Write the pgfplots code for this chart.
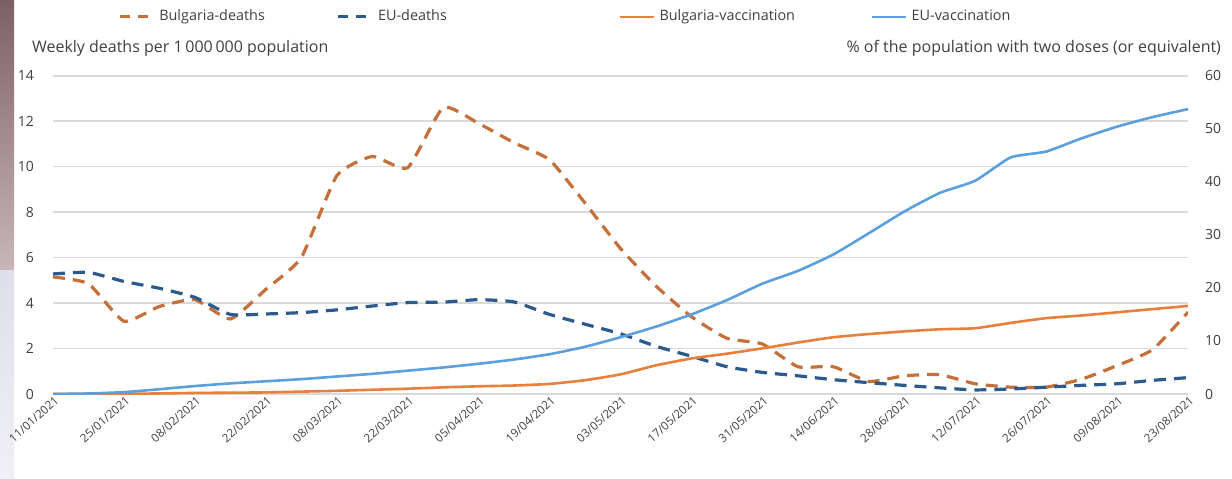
\documentclass[border=0pt]{standalone}
\usepackage{fontspec}
\setmainfont{Open Sans}
\usepackage{pgfplots}
\pgfplotsset{compat=1.18}
\usepackage{pgfplotstable}

\definecolor{bgd}{RGB}{196,112,58}
\definecolor{eud}{RGB}{44,90,140}
\definecolor{bgv}{RGB}{232,127,58}
\definecolor{euv}{RGB}{91,160,220}
\definecolor{txt}{RGB}{64,64,64}
\definecolor{grd}{RGB}{217,217,217}

\pgfplotstableread{
i bgd eud bgv euv
0 5.15 5.28 0.00 0.0
1 4.85 5.35 0.00 0.1
2 3.20 4.95 0.05 0.35
3 3.85 4.65 0.10 0.9
4 4.15 4.25 0.20 1.5
5 3.30 3.50 0.25 2.0
6 4.60 3.52 0.30 2.4
7 6.00 3.58 0.45 2.8
8 9.60 3.70 0.60 3.3
9 10.45 3.87 0.80 3.8
10 9.95 4.02 1.00 4.4
11 12.60 4.04 1.25 5.0
12 11.90 4.15 1.45 5.7
13 11.05 4.05 1.60 6.5
14 10.30 3.50 1.90 7.5
15 8.40 3.07 2.60 8.9
16 6.40 2.65 3.70 10.7
17 4.75 2.10 5.40 12.7
18 3.40 1.66 6.70 15.0
19 2.45 1.20 7.60 17.7
20 2.20 0.95 8.60 20.8
21 1.20 0.80 9.70 23.2
22 1.20 0.63 10.70 26.3
23 0.55 0.50 11.30 30.3
24 0.80 0.38 11.80 34.4
25 0.85 0.27 12.20 37.9
26 0.45 0.18 12.40 40.2
27 0.30 0.22 13.40 44.6
28 0.30 0.30 14.30 45.7
29 0.65 0.38 14.80 48.2
30 1.25 0.45 15.40 50.4
31 1.95 0.60 16.00 52.2
32 3.60 0.72 16.60 53.7
}\datatable

\begin{document}
\begin{tikzpicture}
\useasboundingbox (0,0) rectangle (616pt,239pt);
\fill[white] (0,0) rectangle (616pt,239pt);
\shade[top color={rgb,255:red,125;green,96;blue,102}, bottom color={rgb,255:red,200;green,182;blue,184}] (0,104pt) rectangle (7pt,239pt);
\shade[top color={rgb,255:red,222;green,222;blue,232}, bottom color={rgb,255:red,240;green,240;blue,246}] (0,0) rectangle (7pt,104pt);

\pgfplotsset{
  common/.style={
    at={(26.5pt,42pt)}, anchor=south west,
    scale only axis, width=567.5pt, height=159.15pt,
    xmin=0, xmax=32,
    axis line style={draw=none},
    major tick length=0pt,
    tick style={draw=none},
    clip mode=individual,
    /pgf/number format/assume math mode=true,
    every tick label/.append style={font=\fontsize{7}{8}\selectfont, text=txt},
  }
}

\begin{axis}[common,
  ymin=0, ymax=14, ytick={0,2,...,14},
  ymajorgrids, grid style={grd, line width=0.8pt},
  xtick={0,2,...,32},
  xticklabels={11/01/2021,25/01/2021,08/02/2021,22/02/2021,08/03/2021,22/03/2021,05/04/2021,19/04/2021,03/05/2021,17/05/2021,31/05/2021,14/06/2021,28/06/2021,12/07/2021,26/07/2021,09/08/2021,23/08/2021},
  xticklabel style={rotate=42, anchor=east, inner sep=1pt, xshift=1pt, yshift=-3pt, font=\fontsize{5.8}{7}\selectfont},
  yticklabel style={anchor=east, xshift=-6pt},
]
\addplot[bgd, line width=1.6pt, dash pattern=on 6pt off 4pt, smooth, tension=0.3] table[x=i, y=bgd] {\datatable};
\addplot[eud, line width=1.6pt, dash pattern=on 6pt off 4pt, smooth, tension=0.3] table[x=i, y=eud] {\datatable};
\node[anchor=west, text=txt, font=\fontsize{8}{9}\selectfont] at (rel axis cs:0,1) [xshift=-14pt, yshift=13.5pt] {Weekly deaths per 1\,000\,000 population};
\node[anchor=east, text=txt, font=\fontsize{8}{9}\selectfont] at (rel axis cs:1,1) [xshift=20pt, yshift=13.5pt] {\% of the population with two doses (or equivalent)};
\end{axis}

\begin{axis}[common,
  ymin=0, ymax=60, ytick={0,10,...,60},
  axis y line*=right, axis x line=none,
  yticklabel style={anchor=west, xshift=5pt},
  legend columns=4,
  legend style={at={(0.057,1.185)}, anchor=west, draw=none, fill=none,
    font=\fontsize{7.2}{8}\selectfont, text=txt, inner sep=0pt,
    /tikz/column 2/.style={column sep=34pt},
    /tikz/column 4/.style={column sep=84pt},
    /tikz/column 6/.style={column sep=36pt}},
  legend image code/.code={\draw[#1] (0pt,0pt) -- (17pt,0pt);},
]
\addlegendimage{bgd, line width=1.6pt, dash pattern=on 5pt off 4pt}
\addlegendentry{Bulgaria-deaths}
\addlegendimage{eud, line width=1.6pt, dash pattern=on 5pt off 4pt}
\addlegendentry{EU-deaths}
\addplot[bgv, line width=1.3pt, smooth, tension=0.3] table[x=i, y=bgv] {\datatable};
\addlegendentry{Bulgaria-vaccination}
\addplot[euv, line width=1.3pt, smooth, tension=0.3] table[x=i, y=euv] {\datatable};
\addlegendentry{EU-vaccination}
\end{axis}
\end{tikzpicture}
\end{document}
